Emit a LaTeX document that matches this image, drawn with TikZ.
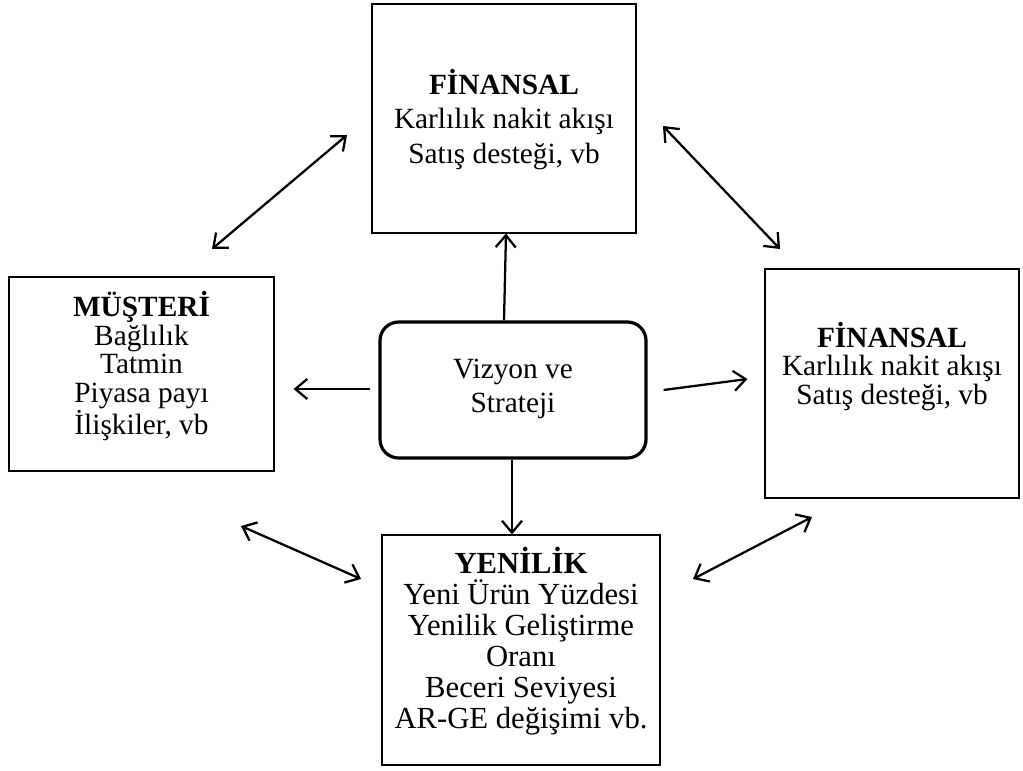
\documentclass[tikz,border=0pt]{standalone}
\usepackage{fontspec}
\setmainfont{Liberation Serif}
\usetikzlibrary{arrows.meta,calc}
\begin{document}
\begin{tikzpicture}[x=0.75pt,y=-0.75pt,
  box/.style={draw,line width=0.8pt,inner sep=0pt},
  txt/.style={align=center,inner sep=0pt},
  core/.style={draw,line width=2.4pt,rounded corners=14pt,inner sep=0pt},
  tip/.style={Straight Barb[length=9pt,width=15pt,line width=1.7pt]},
  arr/.style={line width=1.7pt,-{Straight Barb[length=9pt,width=15pt,line width=1.7pt]}},
  dbl/.style={line width=1.7pt,{Straight Barb[length=9pt,width=15pt,line width=1.7pt]}-{Straight Barb[length=9pt,width=15pt,line width=1.7pt]}}]
\fill[white] (0,0) rectangle (1023,770);
\useasboundingbox (0,0) rectangle (1023,770);
% boxes
\node[box,minimum width=198pt,minimum height=171.75pt] (top) at (504,118.5) {};
\node[box,minimum width=198.75pt,minimum height=145.5pt] (left) at (141.5,374) {};
\node[box,minimum width=190.5pt,minimum height=171.75pt] (right) at (892,383.5) {};
\node[box,minimum width=208.5pt,minimum height=172.5pt] (bot) at (521,650) {};
\node[core,minimum width=199.5pt,minimum height=102pt] (c) at (513,390) {};
% texts
\node[txt,font=\fontsize{22}{25}\selectfont] (ctxt) at ($(c)+(0,-1)$)
  {Vizyon ve\\Strateji};
\node[txt,font=\fontsize{22}{26}\selectfont] (toptxt) at ($(top)+(0,1)$)
  {\textbf{FİNANSAL}\\Karlılık nakit akışı\\Satış desteği, vb};
\node[txt,font=\fontsize{22}{21.4}\selectfont] (lefttxt) at ($(left)+(0,-8)$)
  {\textbf{MÜŞTERİ}\\Bağlılık\\Tatmin\\Piyasa payı\\İlişkiler, vb};
\node[txt,font=\fontsize{22}{21.5}\selectfont] (righttxt) at ($(right)+(0,-17)$)
  {\textbf{FİNANSAL}\\Karlılık nakit akışı\\Satış desteği, vb};
\node[txt,font=\fontsize{23}{23.3}\selectfont] (bottxt) at ($(bot)+(0,-9)$)
  {\textbf{YENİLİK}\\Yeni Ürün Yüzdesi\\Yenilik Geliştirme\\Oranı\\Beceri Seviyesi\\AR-GE değişimi vb.};
% center arrows
\draw[arr] ($(c.north)+(-9,0)$) -- ($(top.south)+(2,0)$);
\draw[arr] ($(c.west)+(-8,-1)$) -- ($(left.east)+(19,15)$);
\draw[arr] ($(c.east)+(16,0)$) -- ($(right.west)+(-17,-4.5)$);
\draw[arr] ($(c.south)+(-1,0)$) -- ($(bot.north)+(-9,0)$);
% corner double arrows
\coordinate (tl1) at (212,249);
\coordinate (tl2) at (347,135);
\coordinate (tr1) at (663,126);
\coordinate (tr2) at (780,249);
\coordinate (bl1) at (241,526);
\coordinate (bl2) at (361,579);
\coordinate (br1) at (812,517);
\coordinate (br2) at (693,579);
\draw[dbl] (tl1) -- (tl2);
\draw[dbl] (tr1) -- (tr2);
\draw[dbl] (bl1) -- (bl2);
\draw[dbl] (br1) -- (br2);
\end{tikzpicture}
\end{document}
